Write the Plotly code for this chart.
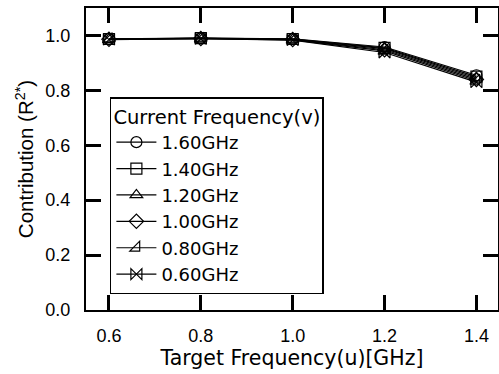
import plotly.graph_objects as go

target_freq = [0.6, 0.8, 1.0, 1.2, 1.4]
y_ticks = [0.0, 0.2, 0.4, 0.6, 0.8, 1.0]
series_names = ["1.60GHz", "1.40GHz", "1.20GHz", "1.00GHz", "0.80GHz", "0.60GHz"]
v160 = [0.988, 0.990, 0.988, 0.958, 0.855]
v140 = [0.987, 0.990, 0.987, 0.955, 0.850]
v120 = [0.987, 0.989, 0.986, 0.952, 0.845]
v100 = [0.986, 0.989, 0.985, 0.948, 0.840]
v080 = [0.986, 0.988, 0.984, 0.944, 0.835]
v060 = [0.985, 0.988, 0.983, 0.938, 0.830]
series_values = [v160, v140, v120, v100, v080, v060]
symbols = ["circle-open", "square-open", "triangle-up-open", "diamond-open",
           "triangle-se-open", "bowtie-open"]

FONT = "Liberation Sans, Arial, sans-serif"
TFONT = "DejaVu Sans, sans-serif"

fig = go.Figure()
for name, vals, sym in zip(series_names, series_values, symbols):
    fig.add_trace(go.Scatter(
        x=target_freq, y=vals, name=name, mode="lines+markers",
        line=dict(color="black", width=1.2),
        marker=dict(symbol=sym, size=11, color="black",
                    line=dict(color="black", width=1.2)),
    ))

axis_common = dict(
    showline=True, linecolor="black", linewidth=2, mirror="allticks",
    ticks="inside", ticklen=15, tickwidth=2.5, tickcolor="black",
    showgrid=False, zeroline=False,
    tickfont=dict(family=FONT, size=18, color="black"),
)

fig.update_layout(
    template="simple_white",
    width=499, height=374,
    margin=dict(l=86, r=1, t=8, b=64, autoexpand=False),
    paper_bgcolor="white", plot_bgcolor="white",
    showlegend=True,
    font=dict(family=FONT, size=17, color="black"),
    xaxis=dict(range=[0.55, 1.447], tickmode="array", tickvals=target_freq,
               ticktext=[f"{v:.1f}" for v in target_freq],
               ticklabelstandoff=8,
               title=dict(text="Target Frequency(u)[GHz]", standoff=2,
                          font=dict(family=TFONT, size=20.5)),
               **axis_common),
    yaxis=dict(range=[0, 1.1], tickmode="array", tickvals=y_ticks,
               ticktext=[f"{v:.1f}" for v in y_ticks],
               ticklabelstandoff=10,
               title=dict(text="Contribution (R<sup>2*</sup>)", standoff=6,
                          font=dict(family=FONT, size=20.5)),
               **axis_common),
    legend=dict(
        x=0.058, y=0.705, xanchor="left", yanchor="top",
        bgcolor="white", bordercolor="black", borderwidth=1.5,
        title=dict(text="Current Frequency(v)", font=dict(family=TFONT, size=19.5)),
        font=dict(family=TFONT, size=18, color="black"),
        itemwidth=40,
    ),
)

fig.write_html(
    "out.html",
    config={"displayModeBar": False},
    post_script="document.body.style.margin='0';document.body.style.overflow='hidden';",
)
